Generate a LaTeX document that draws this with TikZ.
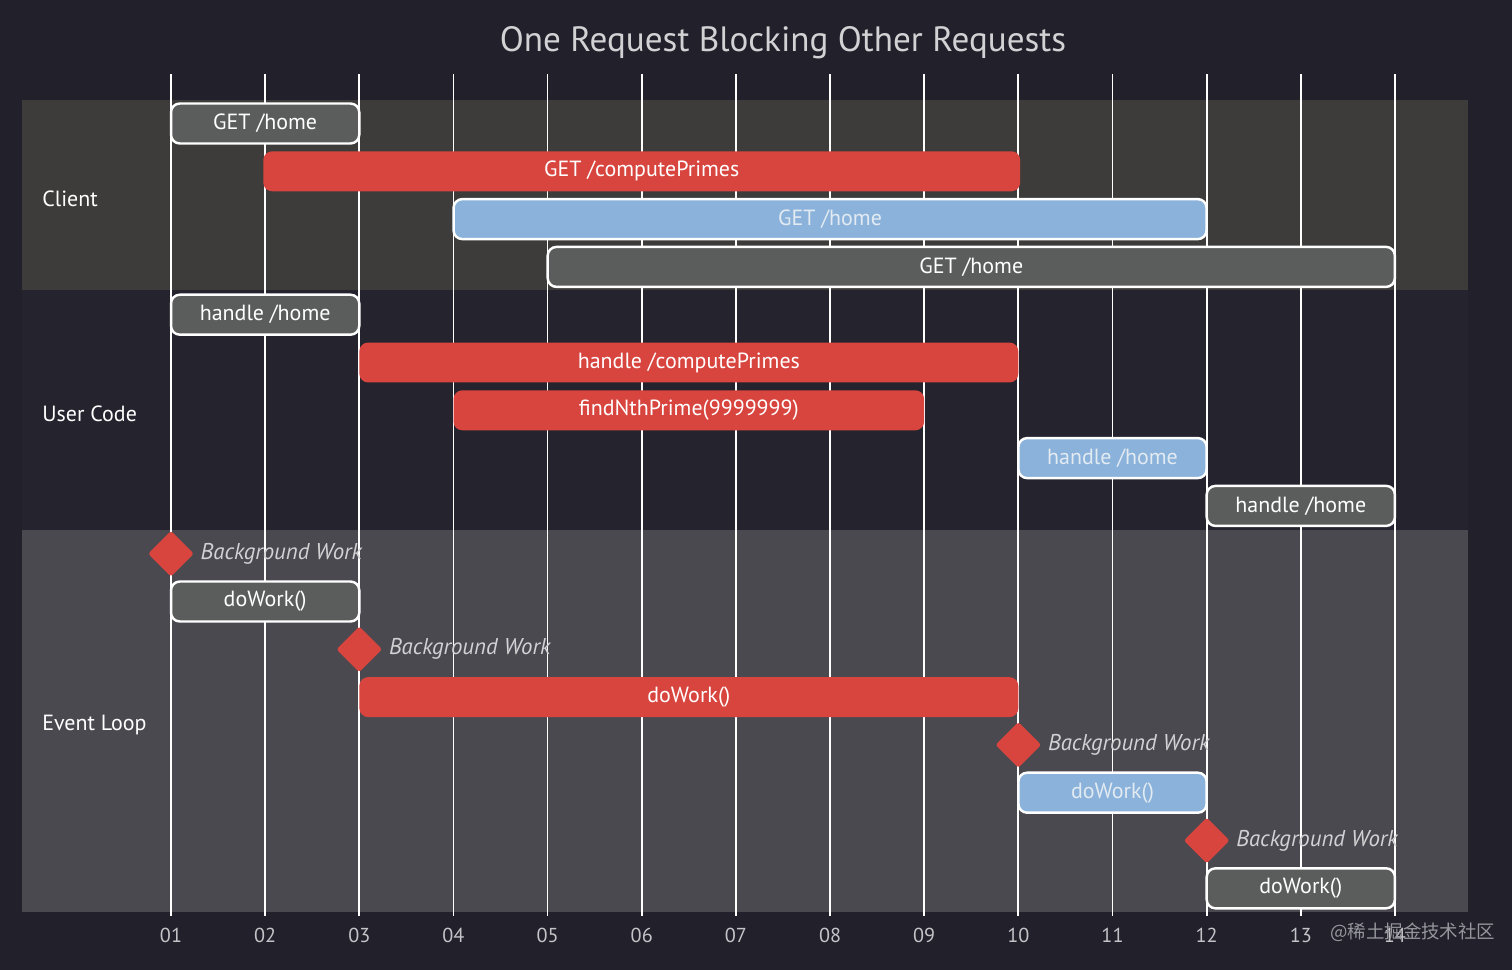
\documentclass[tikz,border=0pt]{standalone}
\usepackage{fontspec}
\setmainfont{PT Sans}
\newfontfamily\cjkfont{Noto Sans CJK SC}
\usepackage{tikz}
\usetikzlibrary{shapes.geometric, positioning}
\definecolor{chartbg}{RGB}{33,32,43}
\definecolor{clientband}{RGB}{61,60,58}
\definecolor{userband}{RGB}{37,36,46}
\definecolor{loopband}{RGB}{74,73,80}
\definecolor{taskgray}{RGB}{91,93,92}
\definecolor{taskred}{RGB}{216,68,62}
\definecolor{taskblue}{RGB}{138,178,218}
\definecolor{bluetext}{RGB}{226,234,242}
\definecolor{titlegray}{RGB}{210,210,212}
\definecolor{tickgray}{RGB}{196,196,200}
\definecolor{markgray}{RGB}{150,150,156}
\tikzset{
  taskbar/.style={rectangle, rounded corners=5pt, minimum height=0.8cm,
    inner sep=0pt, font=\fontsize{12.5}{14}\selectfont},
  donetask/.style={taskbar, draw=white, line width=1.4pt, fill=taskgray, text=white},
  crittask/.style={taskbar, fill=taskred, text=white},
  activetask/.style={taskbar, draw=white, line width=1.4pt, fill=taskblue, text=bluetext},
  milestone/.style={diamond, aspect=1, fill=taskred, minimum width=0.92cm,
    minimum height=0.92cm, inner sep=0pt, rounded corners=1.5pt},
  mslabel/.style={font=\fontsize{13}{15}\selectfont\itshape, text=titlegray,
    inner sep=0pt, anchor=west},
  section/.style={font=\fontsize{12.5}{14}\selectfont, text=white, anchor=west, inner sep=0pt},
  gridline/.style={white, line width=1pt},
  span/.style n args={3}{minimum width={(#2-#1)*1.883cm},
    at={({171+(#1+#2-2)*47.075},{123.5+#3*47.8})}}
}

\begin{document}
\begin{tikzpicture}[x=0.02cm, y=-0.02cm]
  % background and sections
  \fill[chartbg] (0,0) rectangle (1512,970);
  \useasboundingbox (0,0) rectangle (1512,970);
  \fill[clientband] (22,100) rectangle (1468,290);
  \fill[userband] (22,290) rectangle (1468,530);
  \fill[loopband] (22,530) rectangle (1468,912);

  \node[font=\fontsize{20}{24}\selectfont, text=titlegray] (title) at (783,43)
    {One Request Blocking Other Requests};

  % grid and axis
  \foreach \i/\lbl in {1/01,2/02,3/03,4/04,5/05,6/06,7/07,8/08,9/09,10/10,11/11,12/12,13/13,14/14}{
    \draw[gridline] ({171+(\i-1)*94.15},74) -- ({171+(\i-1)*94.15},916);
    \node[font=\fontsize{11.5}{13}\selectfont, text=tickgray] (tick\i)
      at ({171+(\i-1)*94.15},935) {\lbl};
  }

  % section labels
  \node[section] (sec1) at (42,199) {Client};
  \node[section] (sec2) at (42,414) {User Code};
  \node[section] (sec3) at (42,725) {Event Loop};

  % Client
  \node[donetask, span={1}{3}{0}] (c1) {GET /home};
  \node[crittask, span={2}{10}{1}, minimum width=15.14cm] (c2) {GET /computePrimes};
  \node[activetask, span={4}{12}{2}] (c3) {GET /home};
  \node[donetask, span={5}{14}{3}] (c4) {GET /home};

  % User Code
  \node[donetask, span={1}{3}{4}] (u1) {handle /home};
  \node[crittask, span={3}{10}{5}] (u2) {handle /computePrimes};
  \node[crittask, span={4}{9}{6}] (u3) {findNthPrime(9999999)};
  \node[activetask, span={10}{12}{7}] (u4) {handle /home};
  \node[donetask, span={12}{14}{8}] (u5) {handle /home};

  % Event Loop
  \node[milestone, span={1}{1}{9}, minimum width=0.92cm] (m1) {};
  \node[mslabel, right=0.12cm of m1] (m1t) {Background Work};
  \node[donetask, span={1}{3}{10}] (e1) {doWork()};
  \node[milestone, span={3}{3}{11}, minimum width=0.92cm] (m2) {};
  \node[mslabel, right=0.12cm of m2] (m2t) {Background Work};
  \node[crittask, span={3}{10}{12}] (e2) {doWork()};
  \node[milestone, span={10}{10}{13}, minimum width=0.92cm] (m3) {};
  \node[mslabel, right=0.12cm of m3] (m3t) {Background Work};
  \node[activetask, span={10}{12}{14}] (e3) {doWork()};
  \node[milestone, span={12}{12}{15}, minimum width=0.92cm] (m4) {};
  \node[mslabel, right=0.12cm of m4] (m4t) {Background Work};
  \node[donetask, span={12}{14}{16}] (e4) {doWork()};

  % watermark
  \node[font=\cjkfont\fontsize{10.5}{12}\selectfont, text=markgray, anchor=west] (mark)
    at (1324,932) {@稀土掘金技术社区};
\end{tikzpicture}
\end{document}
